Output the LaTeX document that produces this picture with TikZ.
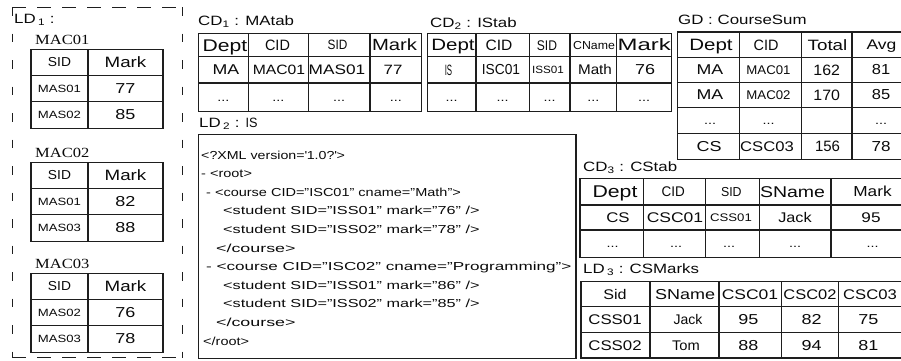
\documentclass[tikz,border=0pt]{standalone}
\usepackage{fontspec}
\setmainfont{Liberation Sans}[FakeStretch=1.25]
\newfontfamily\labserif{Liberation Serif}[FakeStretch=1.18]
\definecolor{ruleGray}{RGB}{30,30,30}
\definecolor{inkBlack}{RGB}{10,10,10}
\newcommand{\tabfont}[1]{\fontsize{#1}{#1}\selectfont}
\newcommand{\tabdots}{...}

\begin{document}
\begin{tikzpicture}[x=1pt, y=-1pt,
    grid/.style={draw=ruleGray, line width=1.15pt},
    cell/.style={inner sep=0pt, anchor=base, text=inkBlack, font=\tabfont{#1}, yshift={-0.358*#1}},
    cell/.default=14,
    title/.style={inner sep=0pt, anchor=base west, text=inkBlack, font=\tabfont{13.5}},
    xmlline/.style={inner sep=0pt, anchor=base west, text=inkBlack, font=\tabfont{11.6}}]
  \useasboundingbox (0,0) rectangle (901,360);

  % LD1 : dashed frame with the three course tables
  \draw[ruleGray, line width=1pt, dash pattern=on 14pt off 11pt] (12,7) -- (182.5,7) (12,357.5) -- (182.5,357.5);
  \draw[ruleGray, line width=1pt, dash pattern=on 8.5pt off 18pt] (12,7) -- (12,357.5) (182.5,7) -- (182.5,357.5);
  \node[title] (ld1) at (14,23.5) {LD\,\textsubscript{1} :};
  \foreach \ty/\crs/\sa/\ma/\sb/\mb in {49.3/MAC01/MAS01/77/MAS02/85, 162.3/MAC02/MAS01/82/MAS03/88, 273.3/MAC03/MAS02/76/MAS03/78}{
    \node[inner sep=0pt, anchor=base west, text=inkBlack, font=\labserif\tabfont{14}] (\crs) at (35,\ty-4.4) {\crs};
    \draw[grid] (31,\ty) rectangle (163,\ty+79);
    \draw[grid] (88,\ty) -- (88,\ty+79);
    \draw[grid] (31,\ty+26) -- (163,\ty+26) (31,\ty+52) -- (163,\ty+52);
    \node[cell=13] (\crs-sid) at (59.5,\ty+13) {\scalebox{0.85}[1]{SID}};
    \node[cell=15] (\crs-mark) at (125.5,\ty+13) {Mark};
    \node[cell=10.5] (\crs-s1) at (59.5,\ty+39) {\sa};
    \node[cell=14.4] (\crs-m1) at (125.5,\ty+39) {\ma};
    \node[cell=10.5] (\crs-s2) at (59.5,\ty+65.5) {\sb};
    \node[cell=14.4] (\crs-m2) at (125.5,\ty+65.5) {\mb};
  }

  % CD1 : MAtab
  \node[title] (cd1) at (198,25.8) {CD\textsubscript{1} : MAtab};
  \draw[grid] (198.3,33.3) rectangle (421.7,111.5);
  \foreach \x in {248.3,308.3,370} \draw[grid] (\x,33.3) -- (\x,111.5);
  \foreach \y in {56.5,83} \draw[grid] (198.3,\y) -- (421.7,\y);
  \foreach \t/\x/\y/\s/\k [count=\i] in {Dept/225/45/16.9/1, CID/277.5/45/15/0.77, SID/337.5/45/13.5/0.7, Mark/394.5/45/16.2/1,
      MA/226/69.8/14.2/1, MAC01/279/69.8/13.5/0.93, MAS01/337/69.8/13.8/1, 77/393/69.8/13.5/1,
      \tabdots/223.3/97.3/11.5/1, \tabdots/278.3/97.3/11.5/1, \tabdots/339.2/97.3/11.5/1, \tabdots/395.9/97.3/11.5/1}
    \node[cell=\s] (cd1-\i) at (\x,\y) {\scalebox{\k}[1]{\t}};

  % CD2 : IStab
  \node[title] (cd2) at (430,27.8) {CD\textsubscript{2} : IStab};
  \draw[grid] (427.3,33.3) rectangle (671.7,111.5);
  \foreach \x in {476,529.3,570,616.7} \draw[grid] (\x,33.3) -- (\x,111.5);
  \foreach \y in {56.5,83} \draw[grid] (427.3,\y) -- (671.7,\y);
  \foreach \t/\x/\y/\s/\k [count=\i] in {Dept/453/45/16.4/1, CID/499/45/15/0.83, SID/547/45/14/0.69, CName/594/45/11.6/0.85, Mark/644.2/45/16.5/1.16,
      IS/448.5/69.8/15/0.42, ISC01/501/69.8/14.5/0.76, ISS01/548/69.8/10.5/0.89, Math/595/69.8/14/0.87, 76/645/69.8/14.4/1,
      \tabdots/451.7/97.3/11.5/1, \tabdots/502.7/97.3/11.5/1, \tabdots/549.7/97.3/11.5/1, \tabdots/593.3/97.3/11.5/1, \tabdots/644.2/97.3/11.5/1}
    \node[cell=\s] (cd2-\i) at (\x,\y) {\scalebox{\k}[1]{\t}};

  % GD : CourseSum
  \node[title] (gd) at (678,24.8) {GD : CourseSum};
  \draw[grid] (677.3,32) rectangle (903,159.3);
  \foreach \x in {739.3,801.7,852} \draw[grid] (\x,32) -- (\x,159.3);
  \foreach \y in {57.3,82.3,107.3,133.3} \draw[grid] (677.3,\y) -- (903,\y);
  \foreach \t/\x/\y/\s/\k [count=\i] in {Dept/711/44.7/16.4/1, CID/766/44.7/15/0.77, Total/827.5/44.7/15/1, Avg/881.5/44.7/14/1,
      MA/710/69.8/14.2/1, MAC01/768.5/69.8/12.6/0.84, 162/826.7/69.8/15/0.85, 81/881/69.8/14.5/0.91,
      MA/710/94.8/14.2/1, MAC02/768.5/94.8/12.6/0.84, 170/826.7/94.8/15/0.85, 85/881/94.8/14.5/0.91,
      \tabdots/710/120.3/11.5/1, \tabdots/768.5/120.3/11.5/1, \tabdots/881/120.3/11.5/1,
      CS/709/146.3/14.4/1, CSC03/767/146.3/14/0.95, 156/827.5/146.3/15/0.8, 78/881/146.3/14.5/0.94}
    \node[cell=\s] (gd-\i) at (\x,\y) {\scalebox{\k}[1]{\t}};

  % LD2 : IS as an XML document
  \node[title] (ld2) at (199,127.8) {LD\,\textsubscript{2} : \scalebox{0.75}[1]{IS}};
  \draw[grid, line width=1.3pt] (198.5,134.3) rectangle (576,358.5);
  \foreach \x/\k/\t [count=\i from 0] in {
      201/0.98/{<?XML version=\textquotesingle 1.0?\textquotesingle>},
      201/1/{- <root>},
      206/1/{- <course CID="ISC01" cname="Math">},
      223/1.12/{<student SID="ISS01" mark="76" />},
      223/1.12/{<student SID="ISS02" mark="78" />},
      216/1.23/{</course>},
      206/1.18/{- <course CID="ISC02" cname="Programming">},
      223/1.12/{<student SID="ISS01" mark="86" />},
      223/1.12/{<student SID="ISS02" mark="85" />},
      216/1.23/{</course>},
      203/1/{</root>}}
    \node[xmlline] (xml\i) at (\x,{159.1+18.6*\i}) {\scalebox{\k}[1]{\t}};

  % CD3 : CStab
  \node[title] (cd3) at (583,171.8) {CD\textsubscript{3} : CStab};
  \draw[grid] (580,178.3) rectangle (914,257.3);
  \foreach \x in {643.3,705.7,759.3,831} \draw[grid] (\x,178.3) -- (\x,257.3);
  \foreach \y in {205,230} \draw[grid] (580,\y) -- (914,\y);
  \foreach \t/\x/\y/\s/\k [count=\i] in {Dept/615/191.7/17/1, CID/673.3/191.7/14/0.77, SID/731.3/191.7/13/0.76, SName/792.5/191.7/15.6/1, Mark/872.5/191.7/14.5/0.95,
      CS/618/217.5/14/0.96, CSC01/675/217.5/14/1, CSS01/731/217.5/11/0.96, Jack/795/217.5/14/0.93, 95/871/217.5/14/0.98,
      \tabdots/612.5/243.7/11.5/1, \tabdots/676/243.7/11.5/1, \tabdots/729/243.7/11.5/1, \tabdots/795/243.7/11.5/1, \tabdots/872.5/243.7/11.5/1}
    \node[cell=\s] (cd3-\i) at (\x,\y) {\scalebox{\k}[1]{\t}};

  % LD3 : CSMarks
  \node[title] (ld3) at (583,273.8) {LD\,\textsubscript{3} : CSMarks};
  \draw[grid] (581,281.7) rectangle (910,358);
  \foreach \x in {650,719,781.7,838.3} \draw[grid] (\x,281.7) -- (\x,358);
  \foreach \y in {306.7,332.7} \draw[grid] (581,\y) -- (910,\y);
  \foreach \t/\x/\y/\s/\k [count=\i] in {Sid/615/294.2/14/0.92, SName/685/294.2/14.4/1, CSC01/750/294.2/14/1, CSC02/810/294.2/14/0.94, CSC03/870/294.2/14/0.95,
      CSS01/615/319.7/14/0.96, Jack/688/319.7/14/0.8, 95/748.3/319.7/14.4/1, 82/811.7/319.7/14.4/1, 75/868.3/319.7/14.4/1,
      CSS02/615/345.3/14/0.96, Tom/686/345.3/14/0.84, 88/748.3/345.3/14.4/1, 94/811.7/345.3/14.4/1, 81/868.3/345.3/14.4/1}
    \node[cell=\s] (ld3-\i) at (\x,\y) {\scalebox{\k}[1]{\t}};
\end{tikzpicture}
\end{document}
